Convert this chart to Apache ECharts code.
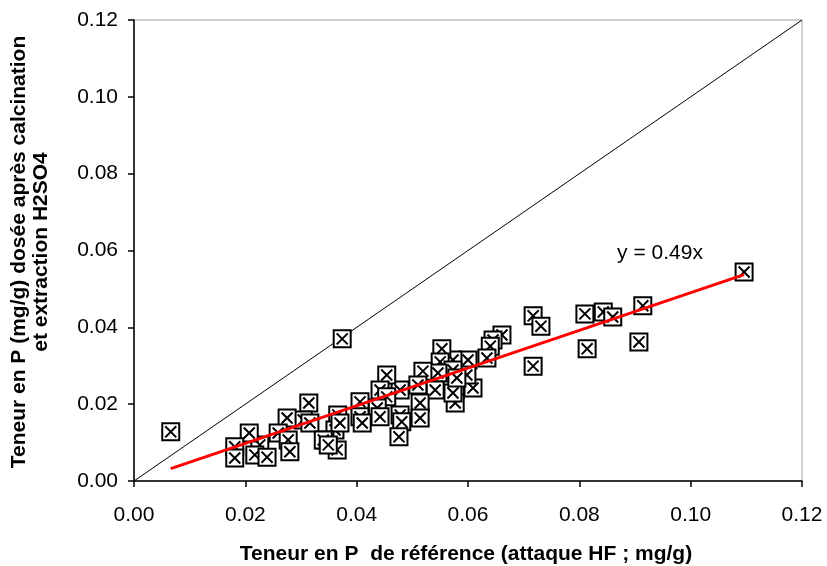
<!DOCTYPE html>
<html>
<head>
<meta charset="utf-8">
<script src="https://cdn.jsdelivr.net/npm/echarts@6/dist/echarts.min.js"></script>
<style>
  html, body { margin: 0; padding: 0; background: #ffffff; }
  #chart { width: 827px; height: 566px; }
</style>
</head>
<body>
<div id="chart"></div>
<script>
// P content: reference (HF digestion) vs. calcination + H2SO4 extraction, mg/g
const refHF = [
  0.0066, 0.0374, 0.1096, 0.0914, 0.0907, 0.0843, 0.0810, 0.0860, 0.0814, 0.0717,
  0.0731, 0.0717, 0.0661, 0.0645, 0.0640, 0.0634, 0.0600, 0.0573, 0.0553, 0.0609,
  0.0577, 0.0577, 0.0598, 0.0555, 0.0550, 0.0573, 0.0573, 0.0546, 0.0541, 0.0519,
  0.0514, 0.0514, 0.0478, 0.0478, 0.0481, 0.0476, 0.0454, 0.0442, 0.0454, 0.0437,
  0.0442, 0.0406, 0.0406, 0.0410, 0.0366, 0.0361, 0.0365, 0.0370, 0.0343, 0.0314,
  0.0304, 0.0316, 0.0340, 0.0349, 0.0275, 0.0259, 0.0277, 0.0280, 0.0226, 0.0207,
  0.0217, 0.0239, 0.0181, 0.0181, 0.0580, 0.0510
];
const calcH2SO4 = [
  0.0128, 0.0370, 0.0544, 0.0456, 0.0362, 0.0440, 0.0435, 0.0427, 0.0344, 0.0430,
  0.0403, 0.0299, 0.0380, 0.0367, 0.0351, 0.0320, 0.0315, 0.0315, 0.0344, 0.0242,
  0.0237, 0.0203, 0.0276, 0.0271, 0.0310, 0.0289, 0.0229, 0.0281, 0.0237, 0.0286,
  0.0203, 0.0164, 0.0237, 0.0172, 0.0154, 0.0115, 0.0276, 0.0237, 0.0219, 0.0190,
  0.0167, 0.0206, 0.0167, 0.0151, 0.0172, 0.0133, 0.0081, 0.0151, 0.0107, 0.0203,
  0.0159, 0.0151, 0.0107, 0.0094, 0.0164, 0.0125, 0.0107, 0.0076, 0.0094, 0.0125,
  0.0068, 0.0062, 0.0089, 0.0060, 0.0268, 0.0250
];
// Regression through origin and the 1:1 line
const slope = 0.49;
const trendLabel = 'y = 0.49x';
const axisMin = 0, axisMax = 0.12, axisStep = 0.02;

const xTitle = 'Teneur en P  de référence (attaque HF ; mg/g)';
const yTitle1 = 'Teneur en P (mg/g) dosée après calcination';
const yTitle2 = 'et extraction H2SO4';

const points = refHF.map((x, i) => [x, calcH2SO4[i]]);
const xLo = Math.min(...refHF), xHi = Math.max(...refHF);
const trend = [[xLo, slope * xLo], [xHi, slope * xHi]];
const identity = [[axisMin, axisMin], [axisMax, axisMax]];

const FONT = '"Liberation Sans", Arial, sans-serif';
const boxX = 'path://M0 0H20V20H0Z M3.5 3.5L16.5 16.5 M16.5 3.5L3.5 16.5';

const chart = echarts.init(document.getElementById('chart'), null, { renderer: 'canvas' });

const axisCommon = {
  type: 'value',
  min: axisMin,
  max: axisMax,
  interval: axisStep,
  axisLine: { show: true, onZero: false, lineStyle: { color: '#000', width: 1.5 } },
  axisTick: { show: true, inside: false, length: 6, lineStyle: { color: '#000', width: 1.5 } },
  splitLine: { show: false },
  axisLabel: {
    color: '#000',
    fontFamily: FONT,
    fontSize: 21,
    formatter: v => v.toFixed(2)
  }
};

chart.setOption({
  animation: false,
  backgroundColor: '#ffffff',
  grid: {
    left: 134, right: 25, top: 20, bottom: 85,
    show: true, borderColor: '#c0c0c0', borderWidth: 1.5, backgroundColor: 'transparent'
  },
  xAxis: Object.assign({}, axisCommon, {
    axisLabel: Object.assign({}, axisCommon.axisLabel, { margin: 24 })
  }),
  yAxis: Object.assign({}, axisCommon, {
    axisLabel: Object.assign({}, axisCommon.axisLabel, { margin: 16 })
  }),
  series: [
    {
      type: 'line',
      data: identity,
      symbol: 'none',
      lineStyle: { color: '#000', width: 1 },
      silent: true,
      z: 1
    },
    {
      type: 'scatter',
      data: points,
      symbol: boxX,
      symbolSize: 17,
      itemStyle: { color: '#ffffff', borderColor: '#000', borderWidth: 2, opacity: 1 },
      z: 2
    },
    {
      type: 'line',
      data: trend,
      symbol: 'none',
      lineStyle: { color: '#ff0000', width: 3 },
      silent: true,
      z: 3
    }
  ],
  graphic: [
    {
      type: 'text', x: 660, y: 253,
      style: { text: trendLabel, font: '21px ' + FONT, fill: '#000', align: 'center', verticalAlign: 'middle' }
    },
    {
      type: 'text', x: 466, y: 554,
      style: { text: xTitle, font: 'bold 21px ' + FONT, fill: '#000', align: 'center', verticalAlign: 'middle' }
    },
    {
      type: 'text', x: 19, y: 252, rotation: Math.PI / 2,
      style: { text: yTitle1, font: 'bold 21px ' + FONT, fill: '#000', align: 'center', verticalAlign: 'middle' }
    },
    {
      type: 'text', x: 41, y: 252, rotation: Math.PI / 2,
      style: { text: yTitle2, font: 'bold 21px ' + FONT, fill: '#000', align: 'center', verticalAlign: 'middle' }
    }
  ]
});
</script>
</body>
</html>
